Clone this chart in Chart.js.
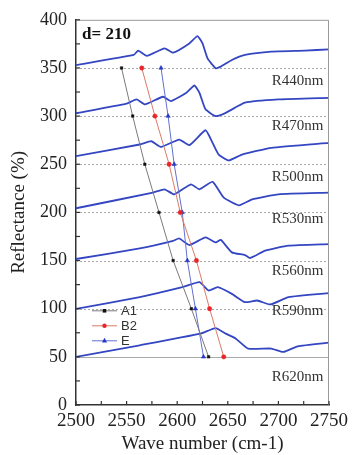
<!DOCTYPE html>
<html>
<head>
<meta charset="utf-8">
<script src="https://cdn.jsdelivr.net/npm/chart.js@4.4.0/dist/chart.umd.min.js"></script>
<style>
  html, body { margin: 0; padding: 0; background: #fff; }
</style>
</head>
<body>
<canvas id="myChart" width="353" height="455"></canvas>
<script>
// spectra, [wave number, reflectance]
var specR440 = [[2500,353],[2557,363.5],[2561.5,368],[2570,362.5],[2587.5,370.4],[2596,365.9],[2612,375.5],[2620,383],[2625,375.5],[2630,360],[2638,349.7],[2643,351.4],[2654,358.3],[2667,363.5],[2693,366.9],[2726,368],[2750,369.3]];
var specR470 = [[2500,303],[2550,313],[2560,317.3],[2568,312.1],[2586,320.1],[2594,315.6],[2609,324.2],[2617,331.8],[2622,324.2],[2628,307],[2638,300],[2648,303.4],[2667,313.9],[2700,317.3],[2750,319]];
var specR500 = [[2500,258.4],[2563,270.5],[2574.5,273.9],[2584,268],[2602,275.6],[2612,269.8],[2628,285.3],[2635,272.2],[2641,260.1],[2651,254],[2664,260.1],[2693,267],[2750,272.2]];
var specR530 = [[2500,204.3],[2576,220.5],[2587.5,224],[2597,218.8],[2613.5,229.1],[2622,224],[2635,231.8],[2646,215.3],[2661,207.4],[2674,213.6],[2700,218.8],[2750,220.5]];
var specR560 = [[2500,151.6],[2563,162.6],[2596,170.5],[2602,172.9],[2612,166.1],[2628,174],[2638,168.8],[2643,171.5],[2654,158.5],[2667,155.7],[2672,152.6],[2687,160.2],[2710,165.4],[2750,167.1]];
var specR590 = [[2500,99.9],[2563,112],[2605,122.3],[2622,127.5],[2631,118.9],[2640,122.3],[2654,115.4],[2667,106.8],[2679,108.5],[2692,104.4],[2710,112],[2750,116.1]];
var specR620 = [[2500,49.9],[2563,62],[2623,74.1],[2638,79.9],[2648,74.1],[2658,68.9],[2670,58.6],[2693,58.6],[2705,55.1],[2719,61],[2750,64.8]];

// peak positions
var levels = [350, 300, 250, 200, 150, 100, 50];
var a1Wave = [2545, 2556, 2568, 2582, 2596, 2614, 2631];
var b2Wave = [2565, 2578, 2592, 2603, 2619, 2632, 2646];
var eWave  = [2584, 2591, 2597, 2605, 2610, 2618, 2626];

// curve names and where they sit
var specNames = ['R440nm', 'R470nm', 'R500nm', 'R530nm', 'R560nm', 'R590nm', 'R620nm'];
var nameLevels = [336.6, 289.4, 237, 193, 139.5, 97.5, 29.3];
var nameWave = 2719;
var panelTitle = 'd= 210';

var serif = "'Liberation Serif','Times New Roman',serif";
var sans = "'Liberation Sans',Arial,sans-serif";
var specColor = '#3446c2';

function pts(arr) { return arr.map(function (p) { return {x: p[0], y: p[1]}; }); }
function peak(w) { return w.map(function (x, i) { return {x: x, y: levels[i]}; }); }

var spectra = [specR440, specR470, specR500, specR530, specR560, specR590, specR620];
var datasets = spectra.map(function (s, i) {
  return {
    label: specNames[i], data: pts(s), borderColor: specColor, borderWidth: 1.8,
    pointRadius: 0, tension: 0.15, fill: false, order: 2
  };
});
var markers = [
  {label: 'A1', data: peak(a1Wave), borderColor: '#7a7a7a', pointBackgroundColor: '#111', pointBorderColor: '#111', pointStyle: 'rect', pointRadius: 1.8},
  {label: 'B2', data: peak(b2Wave), borderColor: '#dc7a66', pointBackgroundColor: '#e8262a', pointBorderColor: '#e8262a', pointStyle: 'circle', pointRadius: 2.2},
  {label: 'E', data: peak(eWave), borderColor: '#6270d0', pointBackgroundColor: '#2537c8', pointBorderColor: '#2537c8', pointStyle: 'triangle', pointRadius: 2.5}
];
markers.forEach(function (m) {
  m.borderWidth = 1; m.tension = 0; m.fill = false; m.order = 1; m.marker = true;
  m.pointBorderWidth = 0.5;
  datasets.push(m);
});

function drawMark(ctx, style, x, y, r, color) {
  ctx.fillStyle = color;
  ctx.beginPath();
  if (style === 'rect') ctx.rect(x - r, y - r, 2 * r, 2 * r);
  else if (style === 'triangle') { ctx.moveTo(x, y - r * 1.2); ctx.lineTo(x + r, y + r * 0.7); ctx.lineTo(x - r, y + r * 0.7); ctx.closePath(); }
  else ctx.arc(x, y, r, 0, Math.PI * 2);
  ctx.fill();
}

var decor = {
  id: 'decor',
  beforeDatasetsDraw: function (chart) {
    var ctx = chart.ctx, a = chart.chartArea, ys = chart.scales.y;
    ctx.save();
    levels.forEach(function (v) {
      var py = Math.round(ys.getPixelForValue(v)) + 0.5;
      ctx.strokeStyle = '#aaa';
      ctx.lineWidth = 1;
      ctx.setLineDash(v === 50 ? [] : [2, 2]);
      ctx.beginPath(); ctx.moveTo(a.left, py); ctx.lineTo(a.right, py); ctx.stroke();
    });
    ctx.restore();
  },
  afterDraw: function (chart) {
    var ctx = chart.ctx, a = chart.chartArea, xs = chart.scales.x, ys = chart.scales.y;
    ctx.save();
    // frame
    ctx.strokeStyle = '#999'; ctx.lineWidth = 1;
    ctx.beginPath();
    ctx.moveTo(a.left, a.top + 0.5); ctx.lineTo(a.right - 0.5, a.top + 0.5); ctx.lineTo(a.right - 0.5, a.bottom);
    ctx.stroke();
    // inward ticks
    ctx.strokeStyle = '#333'; ctx.lineWidth = 1.2;
    ys.ticks.forEach(function (t) {
      var py = ys.getPixelForValue(t.value);
      ctx.beginPath(); ctx.moveTo(a.left, py); ctx.lineTo(a.left + 4, py); ctx.stroke();
    });
    xs.ticks.forEach(function (t) {
      var px = xs.getPixelForValue(t.value);
      ctx.beginPath(); ctx.moveTo(px, a.bottom); ctx.lineTo(px, a.bottom - 4); ctx.stroke();
    });
    // curve names
    ctx.fillStyle = '#333'; ctx.font = '15px ' + serif;
    ctx.textAlign = 'center'; ctx.textBaseline = 'middle';
    specNames.forEach(function (n, i) {
      ctx.fillText(n, xs.getPixelForValue(nameWave), ys.getPixelForValue(nameLevels[i]));
    });
    // panel title
    ctx.font = 'bold 17px ' + serif; ctx.fillStyle = '#111'; ctx.textAlign = 'left';
    ctx.fillText(panelTitle, a.left + 6, a.top + 15);
    // legend
    ctx.font = '13px ' + sans;
    var lx = a.left + 16, ly = a.top + 291;
    chart.data.datasets.filter(function (d) { return d.marker; }).forEach(function (d, i) {
      var y = ly + i * 15;
      ctx.strokeStyle = d.borderColor; ctx.lineWidth = 1;
      ctx.beginPath(); ctx.moveTo(lx, y); ctx.lineTo(lx + 25, y); ctx.stroke();
      drawMark(ctx, d.pointStyle, lx + 12.5, y, d.pointRadius, d.pointBackgroundColor);
      ctx.fillStyle = '#333'; ctx.textAlign = 'left';
      ctx.fillText(d.label, lx + 29, y + 1);
    });
    ctx.restore();
  }
};

var ctx = document.getElementById('myChart').getContext('2d');
var chart = new Chart(ctx, {
  type: 'line',
  data: {datasets: datasets},
  plugins: [decor],
  options: {
    responsive: false,
    animation: false,
    layout: {padding: {top: 18, right: 21, left: 0, bottom: 0}},
    plugins: {legend: {display: false}, tooltip: {enabled: false}},
    scales: {
      x: {
        type: 'linear', min: 2500, max: 2750,
        afterFit: function (s) { s.height = 50; },
        grid: {display: true, drawOnChartArea: false, drawTicks: false},
        border: {display: true, color: '#333', width: 1.5},
        ticks: {
          stepSize: 25, autoSkip: false, maxRotation: 0, padding: 5, color: '#222',
          font: {family: serif, size: 19},
          callback: function (v) { return v % 50 === 0 ? v : ''; }
        },
        title: {display: true, text: 'Wave number (cm-1)', color: '#222', font: {family: serif, size: 19}, padding: {top: 0, bottom: 0}}
      },
      y: {
        min: 0, max: 400,
        afterFit: function (s) { s.width = 76; },
        grid: {display: true, drawOnChartArea: false, drawTicks: false},
        border: {display: true, color: '#333', width: 1.5},
        ticks: {
          stepSize: 25, autoSkip: false, padding: 9, color: '#222',
          font: {family: serif, size: 18},
          callback: function (v) { return v % 50 === 0 ? v : ''; }
        },
        title: {display: true, text: 'Reflectance (%)', color: '#222', font: {family: serif, size: 19}, padding: {top: 8, bottom: 0}}
      }
    }
  }
});
</script>
</body>
</html>
